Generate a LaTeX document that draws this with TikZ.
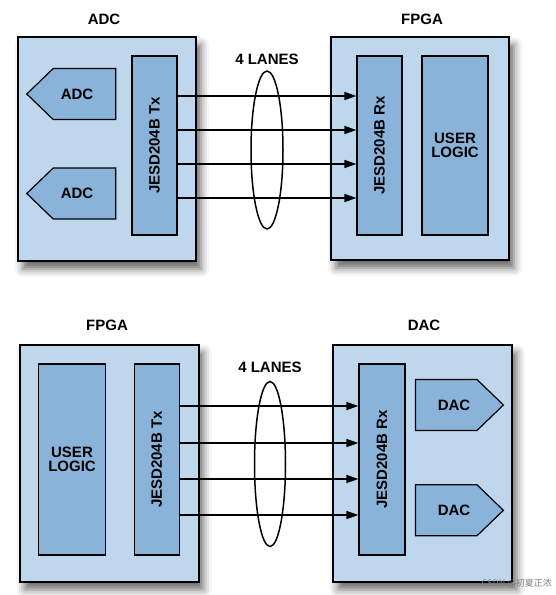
\documentclass[tikz,border=0pt]{standalone}
\usepackage{fontspec}
\setmainfont{Liberation Sans}
\newfontfamily\cjk{Noto Sans CJK SC}
\usepackage{tikz}
\usetikzlibrary{arrows.meta}
\usetikzlibrary{shapes.symbols}
\usetikzlibrary{shapes.geometric}
\usetikzlibrary{shadows.blur}
\definecolor{boardblue}{RGB}{190,215,237}
\definecolor{blockblue}{RGB}{138,179,218}
\tikzstyle{every node}=[inner sep=0pt, font=\fontsize{15}{14.5}\selectfont\bfseries]
\tikzstyle{board}=[rectangle, draw=black, line width=2pt, fill=boardblue,
                   blur shadow={shadow xshift=5pt, shadow yshift=-8pt, shadow blur radius=8pt, shadow opacity=60}]
\tikzstyle{block}=[rectangle, draw=black, line width=1.2pt, fill=blockblue]
\tikzstyle{conv}=[signal, signal pointer angle=88, draw=black, line width=1.2pt, fill=blockblue,
                  minimum height=51pt]
\tikzstyle{lane}=[line width=1.5pt, -{Triangle[length=12pt,width=8pt]}]
\tikzstyle{bundle}=[line width=1.5pt]

\begin{document}
\begin{tikzpicture}[x=1pt, y=-1pt]
      \useasboundingbox (0,0) rectangle (555,595);
      % transmit side: ADC to FPGA
      \node[board, minimum width=178pt, minimum height=224pt] (adcbrd) at (107,149) {};
      \node (adcttl) at (104,19) {ADC};
      \node[block, minimum width=45pt, minimum height=179pt] (txa) at (154.5,145.5) {};
      \node[rotate=90] (txalbl) at (txa.center) {JESD204B Tx};
      \node[conv, signal to=west, minimum width=89pt] (adca) at (84.5,94) {};
      \node (adcalbl) at (77,94) {ADC};
      \node[conv, signal to=west, minimum width=89pt] (adcb) at (84.5,193.5) {};
      \node (adcblbl) at (77,193.5) {ADC};
      \node[board, minimum width=178pt, minimum height=223pt] (fpgaa) at (420,148.5) {};
      \node (fpgaattl) at (422,19) {FPGA};
      \node[block, minimum width=45pt, minimum height=179pt] (rxa) at (379.5,145.5) {};
      \node[rotate=90] (rxalbl) at (rxa.center) {JESD204B Rx};
      \node[block, minimum width=66pt, minimum height=179pt, align=center] (usera) at (455,145.5) {USER\\LOGIC};
      \foreach \y/\n in {96/1,130/2,164/3,198/4}
        \coordinate (la\n) at (txa.east |- 0,\y);
      \foreach \n in {1,...,4}
        \draw[lane] (la\n) -- (la\n -| rxa.west);
      \node[ellipse, draw, bundle, minimum width=32pt, minimum height=158pt] (busa) at (267,150) {};
      \node (lanesa) at (267,59) {4 LANES};

      % receive side: FPGA to DAC
      \node[board, minimum width=179pt, minimum height=237pt] (fpgab) at (109,463) {};
      \node (fpgabttl) at (107,325) {FPGA};
      \node[block, minimum width=67pt, minimum height=191pt, align=center] (userb) at (72,459.5) {USER\\LOGIC};
      \node[block, minimum width=45pt, minimum height=191pt] (txb) at (156.7,459.5) {};
      \node[rotate=90] (txblbl) at (txb.center) {JESD204B Tx};
      \node[board, minimum width=179pt, minimum height=237pt] (dacbrd) at (422.3,463) {};
      \node (dacttl) at (424,325) {DAC};
      \node[block, minimum width=46pt, minimum height=191pt] (rxb) at (382,459.5) {};
      \node[rotate=90] (rxblbl) at (rxb.center) {JESD204B Rx};
      \node[conv, signal to=east, minimum width=88pt] (daca) at (446.2,405) {};
      \node (dacalbl) at (454,405) {DAC};
      \node[conv, signal to=east, minimum width=88pt] (dacb) at (446.2,510.3) {};
      \node (dacblbl) at (454,510.3) {DAC};
      \foreach \y/\n in {406/1,443/2,479/3,515/4}
        \coordinate (lb\n) at (txb.east |- 0,\y);
      \foreach \n in {1,...,4}
        \draw[lane] (lb\n) -- (lb\n -| rxb.west);
      \node[ellipse, draw, bundle, minimum width=31pt, minimum height=165pt] (busb) at (270,464) {};
      \node (lanesb) at (270,367) {4 LANES};

      \node[font=\cjk\fontsize{9}{9}\selectfont, text=black!50, anchor=east] (mark) at (552,583) {CSDN @初夏正浓};
\end{tikzpicture}
\end{document}
